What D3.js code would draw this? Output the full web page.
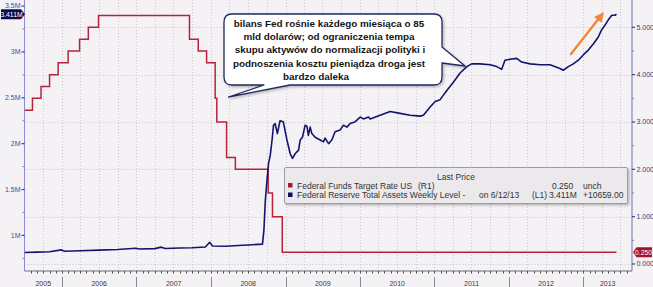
<!DOCTYPE html>
<html><head><meta charset="utf-8">
<script src="https://cdn.jsdelivr.net/npm/d3@7"></script>
<style>
html,body{margin:0;padding:0;background:#f4f2f5;}
svg{display:block;}
</style></head><body>
<svg id="c" width="653" height="287"></svg>
<script>
// ---------- DATA ----------
const assetDates = ["2005-07-01","2005-09-01","2005-11-01","2005-12-28","2006-01-15","2006-04-01","2006-07-01","2006-10-01","2006-12-27","2007-01-17","2007-04-01","2007-05-02","2007-05-23","2007-08-01","2007-10-01","2007-12-05","2007-12-26","2008-01-09","2008-03-12","2008-05-14","2008-07-02","2008-09-10","2008-09-17","2008-09-24","2008-10-02","2008-10-10","2008-10-18","2008-10-27","2008-11-03","2008-11-11","2008-11-22","2008-12-05","2008-12-21","2009-01-08","2009-01-24","2009-02-04","2009-02-17","2009-03-06","2009-03-14","2009-03-25","2009-04-07","2009-04-16","2009-04-23","2009-05-02","2009-05-10","2009-05-26","2009-06-20","2009-07-06","2009-07-14","2009-07-31","2009-08-16","2009-09-01","2009-09-26","2009-10-12","2009-10-29","2009-11-14","2009-12-09","2010-01-02","2010-01-18","2010-02-12","2010-02-20","2010-04-10","2010-05-29","2010-07-17","2010-09-04","2010-10-23","2010-11-08","2010-12-11","2011-01-05","2011-01-29","2011-03-03","2011-04-04","2011-05-07","2011-06-09","2011-07-03","2011-08-13","2011-10-01","2011-11-03","2011-11-27","2011-12-13","2012-01-07","2012-02-09","2012-03-04","2012-04-15","2012-06-02","2012-07-21","2012-09-08","2012-09-24","2012-10-19","2012-11-12","2012-12-07","2013-01-01","2013-01-25","2013-02-19","2013-03-14","2013-03-31","2013-04-16","2013-05-03","2013-05-20","2013-06-05","2013-06-12"];
const assetValues = [0.814,0.818,0.822,0.842,0.828,0.832,0.840,0.846,0.860,0.852,0.856,0.872,0.858,0.862,0.866,0.874,0.925,0.884,0.882,0.890,0.896,0.905,1.055,1.38,1.60,1.79,1.87,2.04,2.20,2.22,2.11,2.25,2.24,2.04,1.89,1.84,1.89,1.93,2.04,2.07,2.20,2.19,2.09,2.18,2.11,2.07,2.04,2.02,2.06,2.00,2.04,2.13,2.15,2.20,2.18,2.22,2.24,2.29,2.27,2.29,2.27,2.31,2.35,2.33,2.31,2.30,2.31,2.40,2.46,2.48,2.58,2.67,2.77,2.84,2.87,2.87,2.86,2.84,2.81,2.91,2.92,2.93,2.89,2.87,2.86,2.86,2.82,2.80,2.84,2.87,2.91,2.97,3.02,3.09,3.16,3.24,3.29,3.35,3.40,3.40,3.411];

const rateDates = ["2005-07-01","2005-08-09","2005-09-20","2005-11-01","2005-12-13","2006-01-31","2006-03-28","2006-05-10","2006-06-29","2007-09-18","2007-10-31","2007-12-11","2008-01-22","2008-01-30","2008-03-18","2008-04-30","2008-10-08","2008-10-29","2008-12-16","2013-06-12"];
const rateValues = [3.25,3.5,3.75,4.0,4.25,4.5,4.75,5.0,5.25,4.75,4.5,4.25,3.5,3.0,2.25,2.0,1.5,1.0,0.25,0.25];

const leftTicks = [1,1.5,2,2.5,3,3.5];
const leftTickLabels = ["1M","1.5M","2M","2.5M","3M","3.5M"];
const leftMinor = [0.75,1.25,1.75,2.25,2.75,3.25];
const rightTicks = [0,1,2,3,4,5];
const rightTickLabels = ["0.000","1.000","2.000","3.000","4.000","5.000"];
const rightMinor = [0.5,1.5,2.5,3.5,4.5];
const years = [2005,2006,2007,2008,2009,2010,2011,2012,2013];
const yearLabels = ["2005","2006","2007","2008","2009","2010","2011","2012","2013"];

const calloutLines = ["bilans Fed rośnie każdego miesiąca o 85","mld dolarów; od ograniczenia tempa","skupu aktywów do normalizacji polityki i","podnoszenia kosztu pieniądza droga jest","bardzo daleka"];
const legendTitle = "Last Price";
const legendRow1 = ["Federal Funds Target Rate US","(R1)","0.250","unch"];
const legendRow2 = ["Federal Reserve Total Assets Weekly Level -","on 6/12/13","(L1)","3.411M","+10659.00"];
const lastAssetLabel = "3.411M";
const lastRateLabel = "0.250";

// ---------- SETUP ----------
const svg = d3.select("#c");
const W=653,H=287;
const L=24.5,R=632,T=0,B=271;
const parse = d3.timeParse("%Y-%m-%d");
const x = d3.scaleTime().domain([new Date(2005,6,1), new Date(2013,7,27)]).range([L,R]);
const yL = d3.scaleLinear().domain([0.612,3.566]).range([B,T]);
const yR = d3.scaleLinear().domain([-0.148,5.577]).range([B,T]);

const axisFont = "'Liberation Sans Narrow','Liberation Sans',Arial,sans-serif";
const mainFont = "'Liberation Sans',Arial,sans-serif";

svg.append("rect").attr("width",W).attr("height",H).attr("fill","#f4f2f5");

const defs = svg.append("defs");
defs.append("clipPath").attr("id","plot").append("rect").attr("x",L).attr("y",T).attr("width",R-L).attr("height",B-T);
const sh = defs.append("filter").attr("id","shadow").attr("x","-10%").attr("y","-10%").attr("width","130%").attr("height","140%");
sh.append("feDropShadow").attr("dx",1.5).attr("dy",1.5).attr("stdDeviation",1.2).attr("flood-color","#000").attr("flood-opacity",0.25);

// grid
const grid = svg.append("g");
const quarters = d3.timeMonth.every(3).range(new Date(2005,7,1), x.domain()[1]);
grid.selectAll("line.v").data(quarters).join("line")
  .attr("x1",d=>Math.round(x(d))+0.5).attr("x2",d=>Math.round(x(d))+0.5).attr("y1",T).attr("y2",B)
  .attr("stroke","#c9c7cd").attr("stroke-width",1).attr("stroke-dasharray","1,2");
grid.selectAll("line.h").data(rightTicks).join("line")
  .attr("x1",L).attr("x2",R).attr("y1",d=>Math.round(yR(d))+0.5).attr("y2",d=>Math.round(yR(d))+0.5)
  .attr("stroke","#c9c7cd").attr("stroke-width",1).attr("stroke-dasharray","1,2");

// axes lines
svg.append("line").attr("x1",L).attr("x2",L).attr("y1",T).attr("y2",B).attr("stroke","#8c8cd0").attr("stroke-width",1);
svg.append("line").attr("x1",R).attr("x2",R).attr("y1",T).attr("y2",B).attr("stroke","#7474b4").attr("stroke-width",1);
svg.append("line").attr("x1",L).attr("x2",R).attr("y1",B).attr("y2",B).attr("stroke","#6c6c78").attr("stroke-width",1);

// left axis ticks
const lg = svg.append("g");
lg.selectAll("line.maj").data(leftTicks).join("line")
  .attr("x1",L-3).attr("x2",L).attr("y1",d=>yL(d)).attr("y2",d=>yL(d)).attr("stroke","#3c3c9a").attr("stroke-width",1.2);
lg.selectAll("line.min").data(leftMinor).join("line")
  .attr("x1",L-2).attr("x2",L).attr("y1",d=>yL(d)).attr("y2",d=>yL(d)).attr("stroke","#7c7cc0").attr("stroke-width",1);
lg.selectAll("text").data(leftTicks).join("text")
  .attr("x",L-4).attr("y",d=>yL(d)+2.4).attr("text-anchor","end")
  .attr("font-family",axisFont).attr("font-size",7).attr("fill","#4a4a9c")
  .text((d,i)=>leftTickLabels[i]);

// right axis ticks
const rg = svg.append("g");
rg.selectAll("line.maj").data(rightTicks).join("line")
  .attr("x1",R).attr("x2",R+3).attr("y1",d=>yR(d)).attr("y2",d=>yR(d)).attr("stroke","#3c3c9a").attr("stroke-width",1.2);
rg.selectAll("line.min").data(rightMinor).join("line")
  .attr("x1",R).attr("x2",R+2).attr("y1",d=>yR(d)).attr("y2",d=>yR(d)).attr("stroke","#7c7cc0").attr("stroke-width",1);
rg.selectAll("text").data(rightTicks).join("text")
  .attr("x",R+4.5).attr("y",d=>yR(d)+2.4)
  .attr("font-family",axisFont).attr("font-size",7).attr("fill","#3a3a80")
  .text((d,i)=>rightTickLabels[i]);

// bottom monthly ticks
const months = d3.timeMonth.range(new Date(2005,7,1), x.domain()[1]);
svg.append("g").selectAll("line").data(months).join("line")
  .attr("x1",d=>Math.round(x(d))+0.5).attr("x2",d=>Math.round(x(d))+0.5).attr("y1",B).attr("y2",B+2.5)
  .attr("stroke","#555").attr("stroke-width",1);
// year separators + labels
const yearStarts = years.slice(1).map(yv=>new Date(yv,0,1));
svg.append("g").selectAll("line").data(yearStarts).join("line")
  .attr("x1",d=>Math.round(x(d))+0.5).attr("x2",d=>Math.round(x(d))+0.5).attr("y1",B+6).attr("y2",H)
  .attr("stroke","#8a8a90").attr("stroke-width",1);
svg.append("g").selectAll("text").data(years).join("text")
  .attr("x",yv=>{const a=Math.max(x(new Date(yv,0,1)),L), b=Math.min(x(new Date(yv+1,0,1)),R); return (a+b)/2;})
  .attr("y",285.5).attr("text-anchor","middle")
  .attr("font-family",axisFont).attr("font-size",7).attr("fill","#3c3c44")
  .text((d,i)=>yearLabels[i]);

// series
const plot = svg.append("g").attr("clip-path","url(#plot)");
const rateData = rateDates.map((d,i)=>({d:parse(d),v:rateValues[i]}));
const assetData = assetDates.map((d,i)=>({d:parse(d),v:assetValues[i]}));
plot.append("path").datum(rateData)
  .attr("d",d3.line().x(p=>x(p.d)).y(p=>yR(p.v)).curve(d3.curveStepAfter))
  .attr("fill","none").attr("stroke","#b8233a").attr("stroke-width",1.5);
plot.append("path").datum(assetData)
  .attr("d",d3.line().x(p=>x(p.d)).y(p=>yL(p.v)))
  .attr("fill","none").attr("stroke","#14146e").attr("stroke-width",1.6).attr("stroke-linejoin","round");

// last value badges
const la = yL(assetValues[assetValues.length-1]);
svg.append("path").attr("d",`M1,${la-5} L21,${la-5} L25,${la} L21,${la+5} L1,${la+5} Z`).attr("fill","#0c0c4e");
svg.append("text").attr("x",11.5).attr("y",la+2.4).attr("text-anchor","middle").attr("font-family",axisFont).attr("font-size",6.8).attr("fill","#fff").text(lastAssetLabel);
const lr = yR(rateValues[rateValues.length-1]);
svg.append("path").attr("d",`M${R+1},${lr} L${R+4.5},${lr-5} L652,${lr-5} L652,${lr+5} L${R+4.5},${lr+5} Z`).attr("fill","#a3142b");
svg.append("text").attr("x",643.5).attr("y",lr+2.4).attr("text-anchor","middle").attr("font-family",axisFont).attr("font-size",6.8).attr("fill","#fff").text(lastRateLabel);

// legend box
const lgd = svg.append("g");
const lf = 8.5;
lgd.append("rect").attr("x",284.5).attr("y",167.5).attr("width",343).attr("height",36).attr("rx",1.5)
  .attr("fill","#ebe9ec").attr("stroke","#9c9ca2").attr("stroke-width",1).attr("filter","url(#shadow)");
lgd.append("text").attr("x",456).attr("y",180).attr("text-anchor","middle").attr("font-family",mainFont).attr("font-size",lf).attr("fill","#333").text(legendTitle);
lgd.append("rect").attr("x",288).attr("y",183).attr("width",4.5).attr("height",4.5).attr("fill","#b0142a");
lgd.append("rect").attr("x",288).attr("y",192.5).attr("width",4.5).attr("height",4.5).attr("fill","#0c0c6a");
const r1x=[297,418,552,583], r2x=[297,479,532,549,583];
legendRow1.forEach((t,i)=>lgd.append("text").attr("x",r1x[i]).attr("y",188.8).attr("font-family",mainFont).attr("font-size",lf).attr("fill","#333").text(t));
legendRow2.forEach((t,i)=>lgd.append("text").attr("x",r2x[i]).attr("y",198.3).attr("font-family",mainFont).attr("font-size",lf).attr("fill","#333").text(t));

// callout
const x0=224,y0=14,x1=442,y1=85,r=8;
const cp = `M${x0+r},${y0} L${x1-r},${y0} Q${x1},${y0} ${x1},${y0+r} L${x1},47 L465,66 L${x1},63 L${x1},${y1-r} Q${x1},${y1} ${x1-r},${y1} L290,${y1} L228.5,97 L264,${y1} L${x0+r},${y1} Q${x0},${y1} ${x0},${y1-r} L${x0},${y0+r} Q${x0},${y0} ${x0+r},${y0} Z`;
svg.append("path").attr("d",cp).attr("fill","#ffffff").attr("stroke","#1e2a5c").attr("stroke-width",1.3).attr("stroke-linejoin","round").attr("filter","url(#shadow)");
const cx=[329,329,330,329,316];
svg.append("g").selectAll("text").data(calloutLines).join("text")
  .attr("x",(d,i)=>cx[i]).attr("y",(d,i)=>26.8+i*13.25).attr("text-anchor","middle")
  .attr("font-family",mainFont).attr("font-weight","bold").attr("font-size",9.9).attr("fill","#151515")
  .text(d=>d);

// orange arrow
const ax0=571,ay0=54,ax1=604,ay1=12;
const dx=ax1-ax0, dy=ay1-ay0, len=Math.hypot(dx,dy), ux=dx/len, uy=dy/len;
const bx=ax1-ux*10, by=ay1-uy*10;
svg.append("line").attr("x1",ax0).attr("y1",ay0).attr("x2",bx+ux*1).attr("y2",by+uy*1)
  .attr("stroke","#f0883c").attr("stroke-width",2.4).attr("stroke-linecap","round");
svg.append("path").attr("d",`M${ax1},${ay1} L${bx-uy*4.8},${by+ux*4.8} L${bx+uy*4.8},${by-ux*4.8} Z`).attr("fill","#f0883c");
</script>
</body></html>
